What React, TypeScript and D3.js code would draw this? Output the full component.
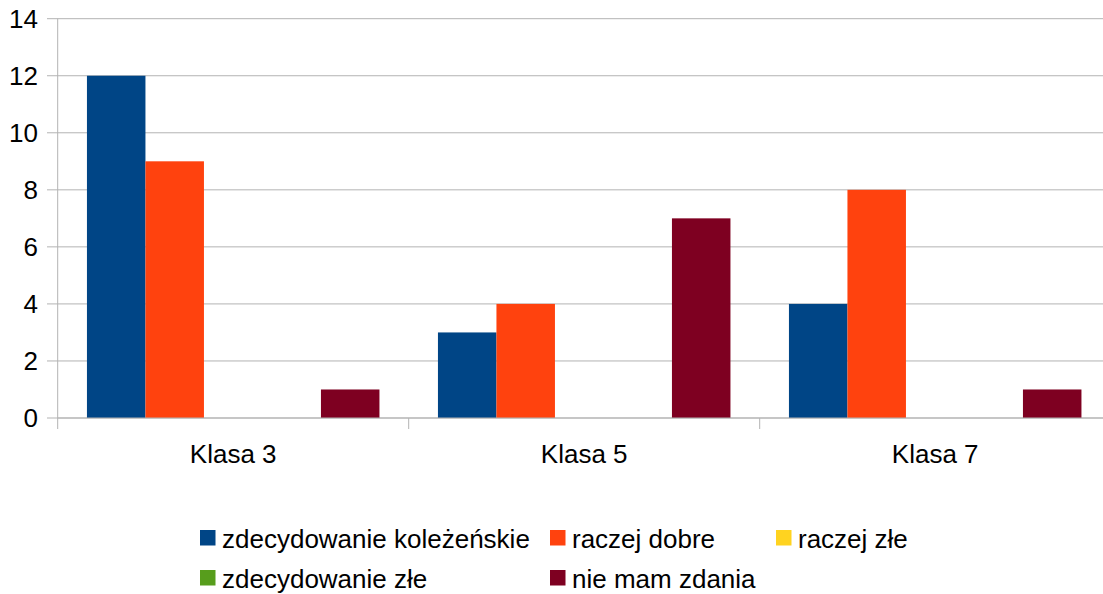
import React from "react";
import * as d3 from "d3";

const categories = ["Klasa 3", "Klasa 5", "Klasa 7"];
const seriesNames = ["zdecydowanie koleżeńskie", "raczej dobre", "raczej złe", "zdecydowanie złe", "nie mam zdania"];
const seriesColors = ["#004586", "#ff420e", "#ffd320", "#579d1c", "#7e0021"];
const zdecydowanieKolezenskie = [12, 3, 4];
const raczejDobre = [9, 4, 8];
const raczejZle = [0, 0, 0];
const zdecydowanieZle = [0, 0, 0];
const nieMamZdania = [1, 7, 1];
const yTicks = [0, 2, 4, 6, 8, 10, 12, 14];

const seriesValues = [zdecydowanieKolezenskie, raczejDobre, raczejZle, zdecydowanieZle, nieMamZdania];

export default function App() {
  const W = 1103, H = 594;
  const left = 57.7, right = 1110.7, top = 18.7, bottom = 418;
  const font = "'Liberation Sans', Arial, sans-serif";
  const fs = 26;
  const x0 = d3.scaleBand<string>().domain(categories).range([left, right]).padding(0);
  const bw = x0.bandwidth();
  const x1 = d3.scaleBand<number>().domain(d3.range(seriesNames.length)).range([bw / 12, (bw * 11) / 12]).padding(0);
  const y = d3.scaleLinear().domain([0, 14]).range([bottom, top]);

  const legendPos = [
    { x: 200, y: 530 },
    { x: 550, y: 530 },
    { x: 776, y: 530 },
    { x: 200, y: 570 },
    { x: 550, y: 570 },
  ];

  return (
    <svg width={W} height={H} style={{ position: "absolute", left: 0, top: 0, background: "#fff" }} fontFamily={font}>
      {yTicks.map((t) => (
        <g key={t}>
          <line x1={47} x2={right} y1={y(t)} y2={y(t)} stroke="#b3b3b3" strokeWidth={1} />
          <text x={38} y={y(t) + 9} textAnchor="end" fontSize={fs} fill="#000">{t}</text>
        </g>
      ))}
      <line x1={left} x2={left} y1={top} y2={bottom + 11} stroke="#b3b3b3" strokeWidth={1} />
      {categories.map((c) => (
        <line key={c} x1={(x0(c) as number) + bw} x2={(x0(c) as number) + bw} y1={bottom} y2={bottom + 11} stroke="#b3b3b3" strokeWidth={1} />
      ))}
      {categories.map((c, ci) =>
        seriesValues.map((vals, si) => {
          const v = vals[ci];
          if (v <= 0) return null;
          return (
            <rect
              key={c + si}
              x={(x0(c) as number) + (x1(si) as number)}
              y={y(v)}
              width={x1.bandwidth()}
              height={y(0) - y(v)}
              fill={seriesColors[si]}
            />
          );
        })
      )}
      <line x1={left} x2={right} y1={bottom} y2={bottom} stroke="#b3b3b3" strokeWidth={1} />
      {categories.map((c) => (
        <text key={c} x={(x0(c) as number) + bw / 2} y={463} textAnchor="middle" fontSize={fs} fill="#000">{c}</text>
      ))}
      {seriesNames.map((n, i) => (
        <g key={n}>
          <rect x={legendPos[i].x} y={legendPos[i].y} width={15.5} height={15.5} fill={seriesColors[i]} />
          <text x={legendPos[i].x + 22} y={legendPos[i].y + 18} fontSize={fs} fill="#000">{n}</text>
        </g>
      ))}
    </svg>
  );
}
